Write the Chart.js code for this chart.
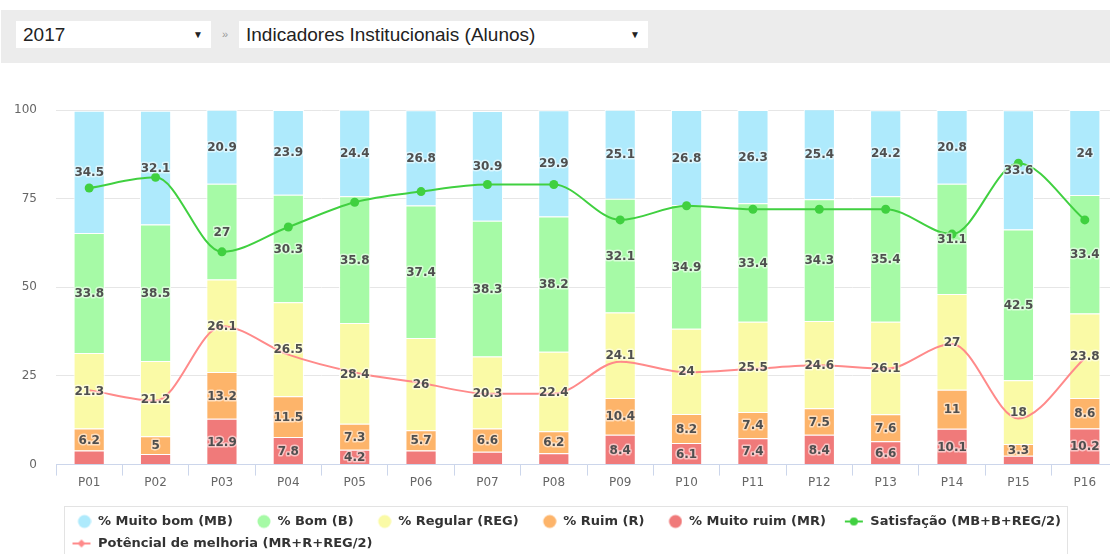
<!DOCTYPE html>
<html>
<head>
<meta charset="utf-8">
<script src="https://cdn.jsdelivr.net/npm/chart.js@4.4.0/dist/chart.umd.min.js"></script>
<style>
    body {
        margin: 0;
        width: 1110px;
        height: 554px;
        overflow: hidden;
        position: relative;
        background: #fff;
        font-family: "Liberation Sans", Arial, sans-serif;
    }
    #barra {
        position: absolute;
        left: 1px;
        top: 10px;
        width: 1109px;
        height: 53px;
        background: #ececec;
    }
    .caixa {
        position: absolute;
        top: 11px;
        height: 27px;
        line-height: 27px;
        background: #fff;
        color: #222;
        font-size: 19px;
        padding-left: 7px;
        box-sizing: border-box;
    }
    .seta {
        position: absolute;
        right: 8px;
        top: 0;
        font-size: 10px;
        color: #222;
    }
    #sep {
        position: absolute;
        left: 221px;
        top: 11px;
        line-height: 27px;
        font-size: 11px;
        color: #999;
    }
    #grafico {
        position: absolute;
        left: 0;
        top: 63px;
        width: 1128px;
        height: 511px;
    }
</style>
</head>
<body>
<div id="barra">
    <div class="caixa" style="left: 15px; width: 195px">2017<span class="seta">&#9660;</span></div>
    <div id="sep">&raquo;</div>
    <div class="caixa" style="left: 238px; width: 409px">Indicadores Institucionais (Alunos)<span class="seta">&#9660;</span></div>
</div>
<div id="grafico"><canvas id="myChart"></canvas></div>

<script>
const categorias = ["P01", "P02", "P03", "P04", "P05", "P06", "P07", "P08", "P09", "P10", "P11", "P12", "P13", "P14", "P15", "P16"]
const muitoBom = [34.5, 32.1, 20.9, 23.9, 24.4, 26.8, 30.9, 29.9, 25.1, 26.8, 26.3, 25.4, 24.2, 20.8, 33.6, 24]
const bom = [33.8, 38.5, 27, 30.3, 35.8, 37.4, 38.3, 38.2, 32.1, 34.9, 33.4, 34.3, 35.4, 31.1, 42.5, 33.4]
const regular = [21.3, 21.2, 26.1, 26.5, 28.4, 26, 20.3, 22.4, 24.1, 24, 25.5, 24.6, 26.1, 27, 18, 23.8]
const ruim = [6.2, 5, 13.2, 11.5, 7.3, 5.7, 6.6, 6.2, 10.4, 8.2, 7.4, 7.5, 7.6, 11, 3.3, 8.6]
const muitoRuim = [4, 3, 12.9, 7.8, 4.2, 4, 3.6, 3.2, 8.4, 6.1, 7.4, 8.4, 6.6, 10.1, 2.5, 10.2]
const satisfacao = [78, 81, 60, 67, 74, 77, 79, 79, 69, 73, 72, 72, 72, 65, 85, 69]
const potencial = [21, 18, 39, 31, 26, 23, 20, 20, 29, 26, 27, 28, 27, 34, 13, 30]
const ticksY = [0, 25, 50, 75, 100]

let corMB = "rgb(174, 234, 252)"
let corB = "rgb(166, 250, 166)"
let corREG = "rgb(250, 250, 166)"
let corR = "rgb(253, 180, 106)"
let corMR = "rgb(240, 122, 122)"
let corSat = "rgb(64, 208, 64)"
let corPot = "rgb(255, 138, 138)"

Chart.defaults.font.family = "'DejaVu Sans', Verdana, sans-serif"

// simbolos da legenda (29x16, marcador encostado a direita)
function marcador(cor, tipo) {
    let cv = document.createElement("canvas")
    cv.width = 29
    cv.height = 16
    let g = cv.getContext("2d")
    g.fillStyle = cor
    g.strokeStyle = cor
    if (tipo == "circulo") {
        g.beginPath()
        g.arc(22, 8, 6.5, 0, Math.PI * 2)
        g.fill()
    } else {
        g.lineWidth = 2
        g.beginPath()
        g.moveTo(10, 8)
        g.lineTo(28, 8)
        g.stroke()
        g.beginPath()
        if (tipo == "linhaBola") {
            g.arc(19, 8, 4, 0, Math.PI * 2)
        } else {
            g.moveTo(19, 4)
            g.lineTo(23, 8)
            g.lineTo(19, 12)
            g.lineTo(15, 8)
            g.closePath()
        }
        g.fill()
    }
    return cv
}

const rotulos = {
    id: "rotulos",
    afterDatasetsDraw(chart) {
        let c = chart.ctx
        c.save()
        c.font = "bold 12px 'DejaVu Sans'"
        c.textAlign = "center"
        c.textBaseline = "middle"
        c.lineJoin = "round"
        for (let i = 0; i < categorias.length; i++) {
            let usados = []
            // de cima (MB) para baixo (MR); esconde o que se sobrepoe
            for (let d = 4; d >= 0; d--) {
                let barra = chart.getDatasetMeta(d).data[i]
                let valor = chart.data.datasets[d].data[i]
                let y = (barra.y + barra.base) / 2
                if (usados.some((u) => Math.abs(u - y) < 19.5)) continue
                usados.push(y)
                c.lineWidth = 3
                c.strokeStyle = "rgba(255, 255, 255, 0.55)"
                c.strokeText(String(valor), barra.x, y + 1)
                c.fillStyle = "#4f4f4f"
                c.fillText(String(valor), barra.x, y + 1)
            }
        }
        c.restore()
    },
}

const caixaLegenda = {
    id: "caixaLegenda",
    afterLayout(chart) {
        let l = chart.legend
        l.left = 53.5
        l.right = 1090
        l.top = 443
        l.bottom = 497
    },
    beforeDraw(chart) {
        let c = chart.ctx
        c.save()
        c.strokeStyle = "#e3e3e3"
        c.lineWidth = 1
        c.strokeRect(64.5, 443.5, 1003, 120)
        c.restore()
    },
}

const ordemLegenda = [4, 3, 2, 1, 0, 5, 6]
const simbolos = [
    marcador(corMR, "circulo"),
    marcador(corR, "circulo"),
    marcador(corREG, "circulo"),
    marcador(corB, "circulo"),
    marcador(corMB, "circulo"),
    marcador(corSat, "linhaBola"),
    marcador(corPot, "linhaLosango"),
]

function barras(label, dados, cor) {
    return {
        type: "bar",
        label: label,
        data: dados,
        backgroundColor: cor,
        borderColor: "#ffffff",
        borderWidth: 1,
        stack: "notas",
        order: 1,
        barPercentage: 0.47,
        categoryPercentage: 1,
    }
}

const ctx = document.getElementById("myChart").getContext("2d")
let myChart = new Chart(ctx, {
    data: {
        labels: categorias,
        datasets: [
            barras("% Muito ruim (MR)", muitoRuim, corMR),
            barras("% Ruim (R)", ruim, corR),
            barras("% Regular (REG)", regular, corREG),
            barras("% Bom (B)", bom, corB),
            barras("% Muito bom (MB)", muitoBom, corMB),
            {
                type: "line",
                label: "Satisfação (MB+B+REG/2)",
                data: satisfacao,
                borderColor: corSat,
                backgroundColor: corSat,
                borderWidth: 2,
                pointRadius: 4.5,
                pointBorderWidth: 0,
                cubicInterpolationMode: "monotone",
                stack: "sat",
                order: 0,
            },
            {
                type: "line",
                label: "Potêncial de melhoria (MR+R+REG/2)",
                data: potencial,
                borderColor: corPot,
                backgroundColor: corPot,
                borderWidth: 2,
                pointRadius: 0,
                cubicInterpolationMode: "monotone",
                stack: "pot",
                order: 0,
            },
        ],
    },
    options: {
        responsive: true,
        maintainAspectRatio: false,
        animation: false,
        layout: {
            padding: { top: 47, left: 14, right: 10, bottom: 30 },
        },
        scales: {
            x: {
                stacked: true,
                grid: {
                    drawOnChartArea: false,
                    drawTicks: true,
                    tickLength: 11,
                    color: "#ccd6eb",
                    offset: true,
                },
                border: { color: "#ccd6eb" },
                ticks: { color: "#666", padding: 0, font: { size: 12 } },
            },
            y: {
                stacked: true,
                min: 0,
                max: 100,
                afterBuildTicks: (eixo) => {
                    eixo.ticks = ticksY.map((v) => ({ value: v }))
                },
                afterFit: (eixo) => {
                    eixo.width = 42
                },
                grid: { color: "#e6e6e6", drawTicks: false },
                border: { display: false },
                ticks: { color: "#666", padding: 19, font: { size: 12 } },
            },
        },
        plugins: {
            tooltip: { enabled: false },
            legend: {
                position: "bottom",
                align: "start",
                labels: {
                    usePointStyle: true,
                    pointStyleWidth: 29,
                    padding: 9,
                    color: "#333",
                    font: { size: 13, weight: "bold" },
                    generateLabels: (chart) => {
                        let itens = Chart.defaults.plugins.legend.labels.generateLabels(chart)
                        itens.forEach((it) => {
                            it.pointStyle = simbolos[it.datasetIndex]
                        })
                        itens.sort((a, b) => ordemLegenda.indexOf(a.datasetIndex) - ordemLegenda.indexOf(b.datasetIndex))
                        return itens
                    },
                },
            },
        },
    },
    plugins: [rotulos, caixaLegenda],
})
</script>
</body>
</html>
